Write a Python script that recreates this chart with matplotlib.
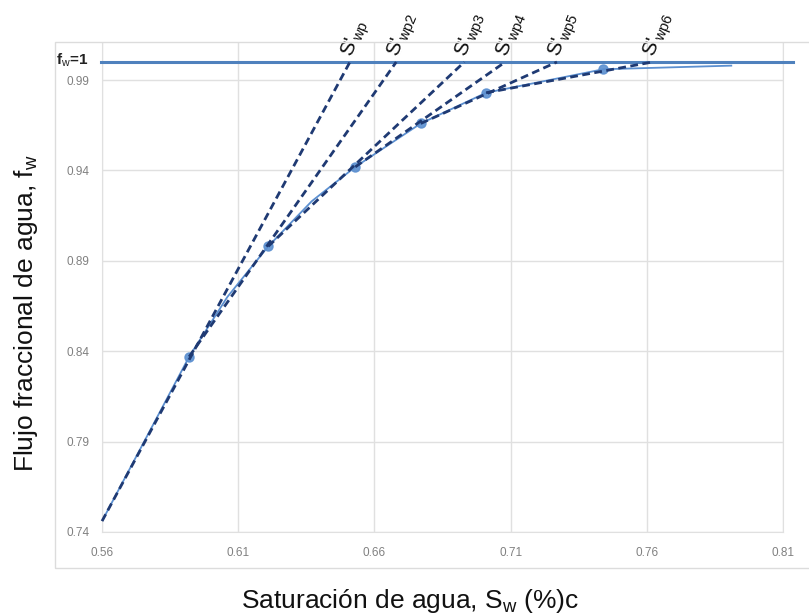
import matplotlib
matplotlib.use('Agg')
import matplotlib.pyplot as plt
from matplotlib.patches import Rectangle

plt.rcParams['font.family'] = ['Liberation Sans', 'DejaVu Sans']
plt.rcParams['mathtext.fontset'] = 'custom'
plt.rcParams['mathtext.rm'] = 'Liberation Sans'
plt.rcParams['mathtext.it'] = 'Liberation Sans:italic'

# curva de flujo fraccional
sw_curve = [0.560, 0.592, 0.606, 0.621, 0.637, 0.653, 0.677, 0.701, 0.744, 0.791]
fw_curve = [0.746, 0.837, 0.870, 0.898, 0.923, 0.942, 0.966, 0.983, 0.996, 0.998]

# puntos marcados sobre la curva
sw_pts = [0.592, 0.621, 0.653, 0.677, 0.701, 0.744]
fw_pts = [0.837, 0.898, 0.942, 0.966, 0.983, 0.996]

# tangentes: punto de partida y corte con fw=1
tan_x0 = [0.560, 0.592, 0.621, 0.653, 0.677, 0.701]
tan_y0 = [0.746, 0.837, 0.898, 0.942, 0.966, 0.983]
tan_sx = [0.651, 0.668, 0.693, 0.708, 0.727, 0.762]
tan_lbl = ['wp', 'wp2', 'wp3', 'wp4', 'wp5', 'wp6']

xticks = [0.56, 0.61, 0.66, 0.71, 0.76, 0.81]
yticks = [0.74, 0.79, 0.84, 0.89, 0.94, 0.99]

fig = plt.figure(figsize=(8.09, 6.15), dpi=100)
fig.add_artist(Rectangle((0.068, 0.0764), 0.95, 0.856, transform=fig.transFigure,
                         fill=False, edgecolor='#dcdcdc', lw=1))
ax = fig.add_axes([0.1261, 0.135, 0.8418, 0.795])

# linea fw=1
ax.plot([0.5595, 0.8135], [1.0, 1.0], color='#4f81bd', lw=2.2, clip_on=False, zorder=3)
ax.annotate(r'f$_\mathrm{w}$=1', xy=(0.56, 1.0), xytext=(-10, 1), textcoords='offset points',
            ha='right', va='center', fontsize=11, fontweight='bold', color='#222222',
            annotation_clip=False)

# curva
ax.plot(sw_curve, fw_curve, color='#5b8fd0', lw=1.3, zorder=2)
ax.plot(sw_pts, fw_pts, 'o', color='#5b8fd0', ms=6.5, alpha=0.9, zorder=4)

# tangentes
for x0, y0, sx, lb in zip(tan_x0, tan_y0, tan_sx, tan_lbl):
    ax.plot([x0, sx], [y0, 1.0], color='#1f3a73', lw=2, ls=(0, (2.8, 1.6)),
            clip_on=False, zorder=5)
    ax.annotate("S'$_\\mathrm{" + lb + "}$", xy=(sx, 1.0), xytext=(7, 1),
                textcoords='offset points', rotation=68, rotation_mode='anchor',
                ha='left', va='bottom', fontsize=15, color='#111111',
                annotation_clip=False)

ax.set_xlim(0.56, 0.81)
ax.set_ylim(0.74, 1.0105)
ax.set_xticks(xticks)
ax.set_yticks(yticks)
ax.set_xticklabels(['%.2f' % v for v in xticks])
ax.set_yticklabels(['%.2f' % v for v in yticks])
ax.tick_params(axis='both', length=0, labelsize=8.5, labelcolor='#808080')
ax.tick_params(axis='x', pad=11)
ax.tick_params(axis='y', pad=9)
ax.grid(True, color='#e0e0e0', lw=1)
ax.set_axisbelow(True)
for s in ax.spines.values():
    s.set_color('#e0e0e0')
ax.spines['top'].set_visible(False)

fig.text(0.507, 0.012, r'Saturación de agua, S$_\mathrm{w}$ (%)c', ha='center', va='baseline',
         fontsize=19, color='#111111')
fig.text(0.032, 0.491, r'Flujo fraccional de agua, f$_\mathrm{w}$', ha='center', va='center',
         rotation=90, fontsize=19, color='#111111')

fig.savefig('out.png', dpi=100)
